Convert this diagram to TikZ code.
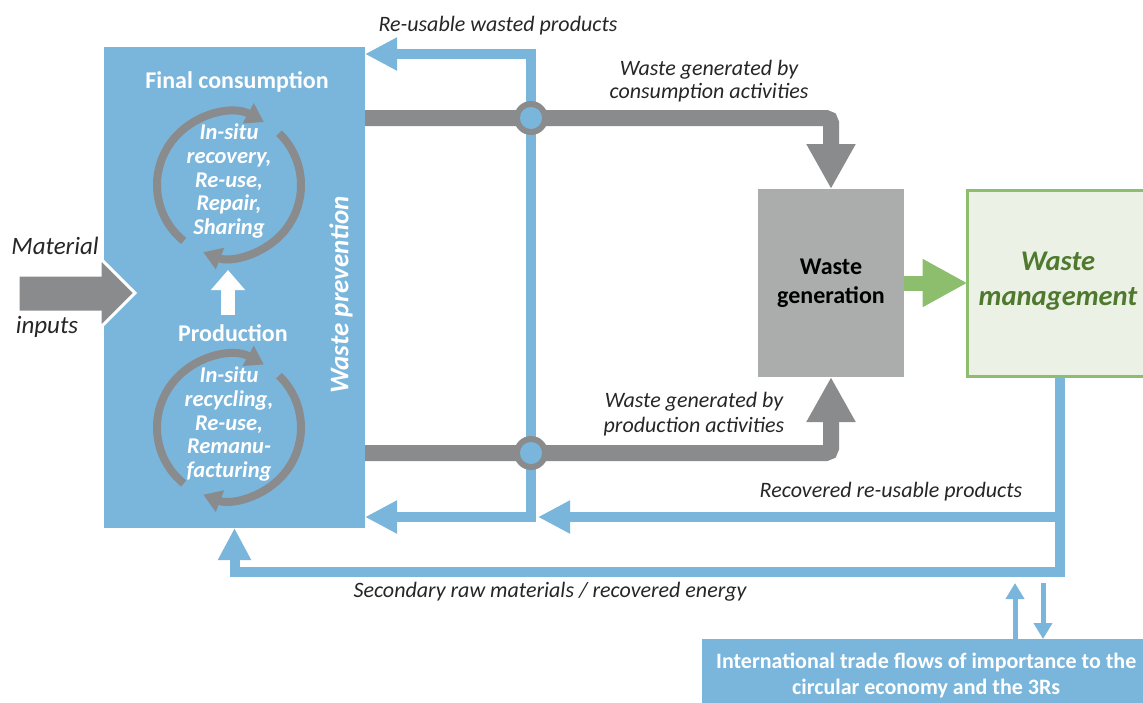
\documentclass[tikz,border=0pt]{standalone}
\usepackage{fontspec}
\setmainfont{Carlito}
\usetikzlibrary{arrows.meta}
\definecolor{flowblue}{HTML}{7AB6DC}
\definecolor{flowgrey}{HTML}{8A8B8D}
\definecolor{boxgrey}{HTML}{ABACAC}
\definecolor{mgmtgreen}{HTML}{8DBE6E}
\definecolor{mgmtfill}{HTML}{EBF1E5}
\definecolor{mgmttext}{HTML}{4F7A2E}
\definecolor{labeltext}{HTML}{262626}

\begin{document}
\begin{tikzpicture}[x=1pt,y=1pt,
	bigblue/.tip={Triangle[width=31pt,length=32pt]},
	smallblue/.tip={Triangle[width=18pt,length=16pt]},
	mainbox/.style={fill=flowblue, inner sep=0pt, outer sep=0pt},
	boxtitle/.style={text=white, font=\fontsize{24}{28}\selectfont\bfseries},
	looptext/.style={text=white, align=center, font=\fontsize{22.5}{23.8}\selectfont\bfseries\itshape},
	loopline/.style={draw=flowgrey, line width=8pt, -{Triangle[width=22pt,length=18pt]}},
	greyflow/.style={draw=flowgrey, line width=16pt, rounded corners=5pt, -{Triangle[width=46pt,length=45pt]}},
	blueflow/.style={draw=flowblue, line width=10pt},
	tradeflow/.style={draw=flowblue, line width=5pt, -smallblue},
	flowlabel/.style={text=labeltext, align=center, font=\fontsize{22}{24}\selectfont\itshape}]

	% 画布范围
	\clip (0,0) rectangle (1143,-702);

	% 左侧大框(废物预防)
	\node[mainbox, anchor=north west, minimum width=261pt, minimum height=481pt] (prev) at (104,-47) {};
	\node[boxtitle] (cons) at (237,-82) {Final consumption};
	\node[boxtitle] (prod) at (233,-333) {Production};
	\node[looptext] (loopc) at (229,-181) {In-situ\\recovery,\\Re-use,\\Repair,\\Sharing};
	\node[looptext] (loopp) at (229,-424) {In-situ\\recycling,\\Re-use,\\Remanu-\\facturing};
	\node[rotate=90, text=white, font=\fontsize{27}{30}\selectfont\bfseries\itshape] (wprev) at (341,-295) {Waste prevention};

	% 两个循环箭头
	\foreach \cy in {185,427.5}{
		\draw[loopline] (229,-\cy) ++(231:72pt) arc[start angle=231, end angle=61, radius=72pt];
		\draw[loopline] (229,-\cy) ++(46:72pt) arc[start angle=46, end angle=-111, radius=72pt];
	}

	% 生产 -> 消费 的白色箭头
	\coordinate (upbot) at (228,-315);
	\coordinate (uptop) at (228,-270);
	\draw[white, line width=14pt, -{Triangle[width=33pt,length=20pt]}] (upbot) -- (uptop);

	% 物料输入箭头
	\draw[draw=white, line width=3pt, fill=flowgrey, line join=miter] (18,-275) -- (100,-275) -- (100,-258) -- (135,-293) -- (100,-328) -- (100,-312) -- (18,-312) -- cycle;
	\node[flowlabel, font=\fontsize{25}{28}\selectfont\itshape] (matin) at (55,-246) {Material};
	\node[flowlabel, font=\fontsize{25}{28}\selectfont\itshape] (inputs) at (47,-327) {inputs};

	% 废物产生与废物管理
	\node[fill=boxgrey, minimum width=146pt, minimum height=188pt, inner sep=0pt, outer sep=0pt,
		align=center, font=\fontsize{24}{29}\selectfont\bfseries] (gen) at (831,-283) {Waste\\generation};
	\node[draw=mgmtgreen, fill=mgmtfill, line width=3pt, anchor=north west, minimum width=190pt,
		minimum height=186pt, outer sep=0pt] (mgmt) at (967.5,-190.5) {};
	\node[text=mgmttext, align=center, font=\fontsize{28.5}{35}\selectfont\bfseries\itshape] (mgmtlabel) at (1058,-281) {Waste\\management};
	\draw[draw=mgmtgreen, line width=15pt, -{Triangle[width=45pt,length=45pt]}] (gen.east) -- (gen.east -| mgmt.west);

	% 交叉点与灰色废物流
	\coordinate (xa) at (531,-118);
	\coordinate (xb) at (531,-453);
	\coordinate (rtop) at (531,-54);
	\coordinate (rbot) at (531,-517);
	\draw[greyflow] (prev.east |- xa) -- (xa) -| (gen.north);
	\draw[greyflow] (prev.east |- xb) -- (xb) -| (gen.south);

	% 蓝色回流
	\draw[blueflow, bigblue-bigblue] (prev.east |- rtop) -- (rtop) -- (rbot) -- (prev.east |- rbot);
	\coordinate (mgcorner) at (1060,-572);
	\coordinate (branch) at (1060,-517);
	\coordinate (rin) at (538,-517);
	\draw[blueflow, -bigblue] (mgcorner |- mgmt.south) -- (mgcorner) -| (prev.south);
	\draw[blueflow, -bigblue] (branch) -- (rin);

	\foreach \p in {xa,xb}{
		\fill[flowgrey] (\p) circle (17pt);
		\fill[flowblue] (\p) circle (11pt);
	}

	% 国际贸易
	\node[fill=flowblue, anchor=north west, minimum width=448pt, minimum height=72pt, inner sep=0pt,
		text=white, align=center, font=\fontsize{22}{26}\selectfont\bfseries] (trade) at (702,-639)
		{International trade flows of importance to the\\circular economy and the 3Rs};
	\coordinate (tup) at (1015,-583);
	\coordinate (tdown) at (1043,-583);
	\draw[tradeflow] (trade.north -| tup) -- (tup);
	\draw[tradeflow] (tdown) -- (trade.north -| tdown);

	% 文字标注
	\node[flowlabel] (lreuse) at (498,-26) {Re-usable wasted products};
	\node[flowlabel, font=\fontsize{22}{23}\selectfont\itshape] (lcons) at (709,-81) {Waste generated by\\consumption activities};
	\node[flowlabel, font=\fontsize{22}{25}\selectfont\itshape] (lprod) at (694,-414) {Waste generated by\\production activities};
	\node[flowlabel] (lrec) at (891,-492) {Recovered re-usable products};
	\node[flowlabel] (lsec) at (550,-592) {Secondary raw materials / recovered energy};

\end{tikzpicture}
\end{document}
